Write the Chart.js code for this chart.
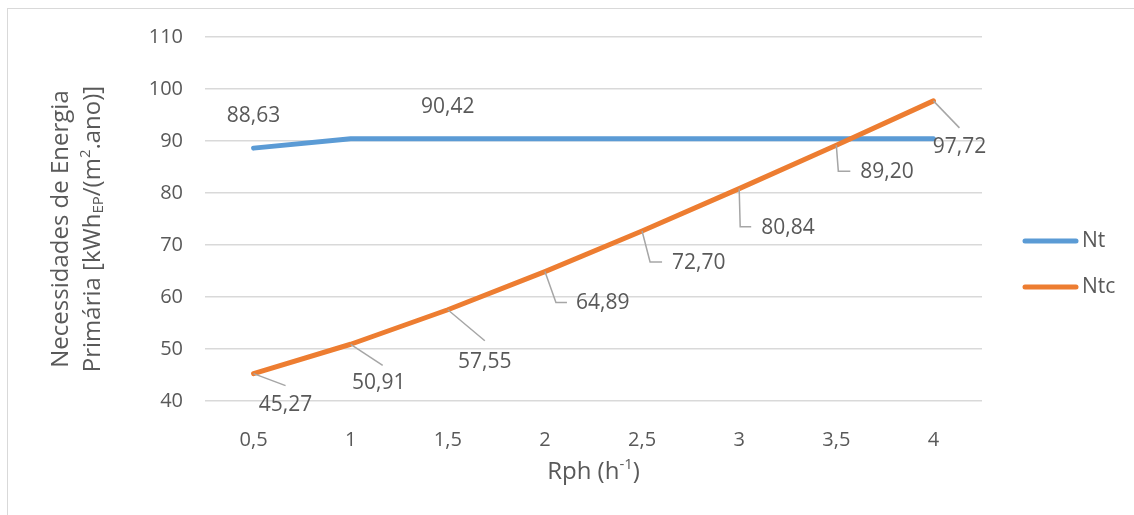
<!DOCTYPE html>
<html>
<head>
<meta charset="utf-8">
<script src="https://cdn.jsdelivr.net/npm/chart.js@4.4.0/dist/chart.umd.min.js"></script>
<style>
  body { margin: 0; background: #fff; }
  #wrap { width: 1134px; height: 515px; }
</style>
</head>
<body>
<div id="wrap"><canvas id="rph-chart" width="1134" height="515"></canvas></div>
<script>
/* Values */
const categories = ['0,5', '1', '1,5', '2', '2,5', '3', '3,5', '4'];
const ntValues = [88.63, 90.42, 90.42, 90.42, 90.42, 90.42, 90.42, 90.42];
const ntcValues = [45.27, 50.91, 57.55, 64.89, 72.70, 80.84, 89.20, 97.72];
const yTicks = [40, 50, 60, 70, 80, 90, 100, 110];

const FONT = "'Open Sans', sans-serif";
const TEXT = '#595959';
const BLUE = '#5B9BD5';
const ORANGE = '#ED7D31';
const FS = 20;      // ticks
const LFS = 21;     // data labels + legend
const TFS = 24;     // axis titles

// only two of the Nt points kept their label in the original
const ntLabelIdx = [0, 2];

// Ntc label placement, offsets from the point: leader vertices + text anchor
const ntcLabelPos = [
  { lead: [[32, 12]], text: [32, 31], align: 'center' },
  { lead: [[32, 21]], text: [28, 39], align: 'center' },
  { lead: [[37, 31]], text: [37, 52], align: 'center' },
  { lead: [[11, 31], [22, 31]], text: [31, 31], align: 'left' },
  { lead: [[8, 31], [20, 31]], text: [30, 32], align: 'left' },
  { lead: [[1, 38], [12, 38]], text: [22, 39], align: 'left' },
  { lead: [[2, 26], [14, 26]], text: [24, 27], align: 'left' },
  { lead: [[26, 27]], text: [26, 46], align: 'center' }
];

const fmt = v => v.toFixed(2).replace('.', ',');

// draws a run of text pieces (normal / sub / superscript) centred on cx
function drawRich(ctx, parts, cx, cy) {
  let total = 0;
  parts.forEach(p => {
    ctx.font = p.size + 'px ' + FONT;
    p.w = ctx.measureText(p.t).width;
    total += p.w;
  });
  let x = cx - total / 2;
  parts.forEach(p => {
    ctx.font = p.size + 'px ' + FONT;
    ctx.fillText(p.t, x, cy + (p.dy || 0));
    x += p.w;
  });
}

const decorations = {
  id: 'decorations',
  beforeDraw(chart) {
    const ctx = chart.ctx;
    ctx.save();
    ctx.strokeStyle = '#d9d9d9';
    ctx.lineWidth = 1;
    ctx.strokeRect(7.5, 8.5, 1200, 600);
    ctx.restore();
  },
  afterDatasetsDraw(chart) {
    const ctx = chart.ctx;
    ctx.save();
    ctx.font = LFS + 'px ' + FONT;
    ctx.fillStyle = TEXT;
    ctx.textBaseline = 'middle';

    // Nt labels, above the point
    const ntMeta = chart.getDatasetMeta(0);
    ctx.textAlign = 'center';
    ntLabelIdx.forEach(i => {
      const pt = ntMeta.data[i];
      ctx.fillText(fmt(ntValues[i]), pt.x, pt.y - 32);
    });

    // Ntc labels with leader lines
    const ntcMeta = chart.getDatasetMeta(1);
    ntcValues.forEach((v, i) => {
      const pt = ntcMeta.data[i];
      const pos = ntcLabelPos[i];
      ctx.strokeStyle = '#a6a6a6';
      ctx.lineWidth = 1.5;
      ctx.beginPath();
      ctx.moveTo(pt.x, pt.y);
      pos.lead.forEach(p => ctx.lineTo(pt.x + p[0], pt.y + p[1]));
      ctx.stroke();
      ctx.textAlign = pos.align;
      ctx.fillText(fmt(v), pt.x + pos.text[0], pt.y + pos.text[1]);
    });
    ctx.restore();
  },
  afterDraw(chart) {
    const ctx = chart.ctx;
    const area = chart.chartArea;
    ctx.save();
    ctx.fillStyle = TEXT;
    ctx.textBaseline = 'middle';
    ctx.textAlign = 'left';

    // x axis title
    drawRich(ctx, [
      { t: 'Rph (h', size: TFS },
      { t: '-1', size: 15, dy: -7 },
      { t: ')', size: TFS }
    ], (area.left + area.right) / 2, 472);

    // y axis title, two lines
    ctx.save();
    ctx.translate(61, 229);
    ctx.rotate(-Math.PI / 2);
    drawRich(ctx, [{ t: 'Necessidades de Energia', size: TFS }], 0, 0);
    drawRich(ctx, [
      { t: 'Primária [kWh', size: TFS },
      { t: 'EP', size: 15, dy: 6 },
      { t: '/(m', size: TFS },
      { t: '2', size: 15, dy: -7 },
      { t: '.ano)]', size: TFS }
    ], 0, 32);
    ctx.restore();

    // legend
    [['Nt', BLUE, 241], ['Ntc', ORANGE, 287]].forEach(([name, col, y]) => {
      ctx.strokeStyle = col;
      ctx.lineWidth = 5;
      ctx.lineCap = 'round';
      ctx.beginPath();
      ctx.moveTo(1025, y);
      ctx.lineTo(1076, y);
      ctx.stroke();
      ctx.font = LFS + 'px ' + FONT;
      ctx.fillText(name, 1082, y);
    });
    ctx.restore();
  }
};

const data = {
  labels: categories,
  datasets: [
    {
      label: 'Nt',
      data: ntValues,
      borderColor: BLUE,
      backgroundColor: BLUE,
      borderWidth: 5,
      borderCapStyle: 'round',
      borderJoinStyle: 'round',
      pointRadius: 0,
      tension: 0,
      order: 1
    },
    {
      label: 'Ntc',
      data: ntcValues,
      borderColor: ORANGE,
      backgroundColor: ORANGE,
      borderWidth: 5,
      borderCapStyle: 'round',
      borderJoinStyle: 'round',
      pointRadius: 0,
      tension: 0,
      order: 0
    }
  ]
};

const config = {
  type: 'line',
  data: data,
  options: {
    responsive: false,
    animation: false,
    layout: {
      padding: { left: 0, right: 152, top: 37, bottom: 0 }
    },
    plugins: {
      legend: { display: false },
      tooltip: { enabled: false }
    },
    scales: {
      x: {
        offset: true,
        grid: { display: false },
        border: { display: false },
        ticks: {
          color: TEXT,
          font: { family: FONT, size: FS },
          padding: 19,
          maxRotation: 0
        },
        afterFit: s => { s.height = 114; }
      },
      y: {
        min: 40,
        max: 110,
        grid: { color: '#d9d9d9', lineWidth: 1.5, drawTicks: false },
        border: { display: false },
        ticks: {
          color: TEXT,
          font: { family: FONT, size: FS },
          padding: 22
        },
        afterBuildTicks: s => { s.ticks = yTicks.map(v => ({ value: v })); },
        afterFit: s => { s.width = 205; }
      }
    }
  },
  plugins: [decorations]
};

// Chart Activation
let ctx = document.getElementById('rph-chart').getContext('2d');
let rphChart = new Chart(ctx, config);
</script>
</body>
</html>
